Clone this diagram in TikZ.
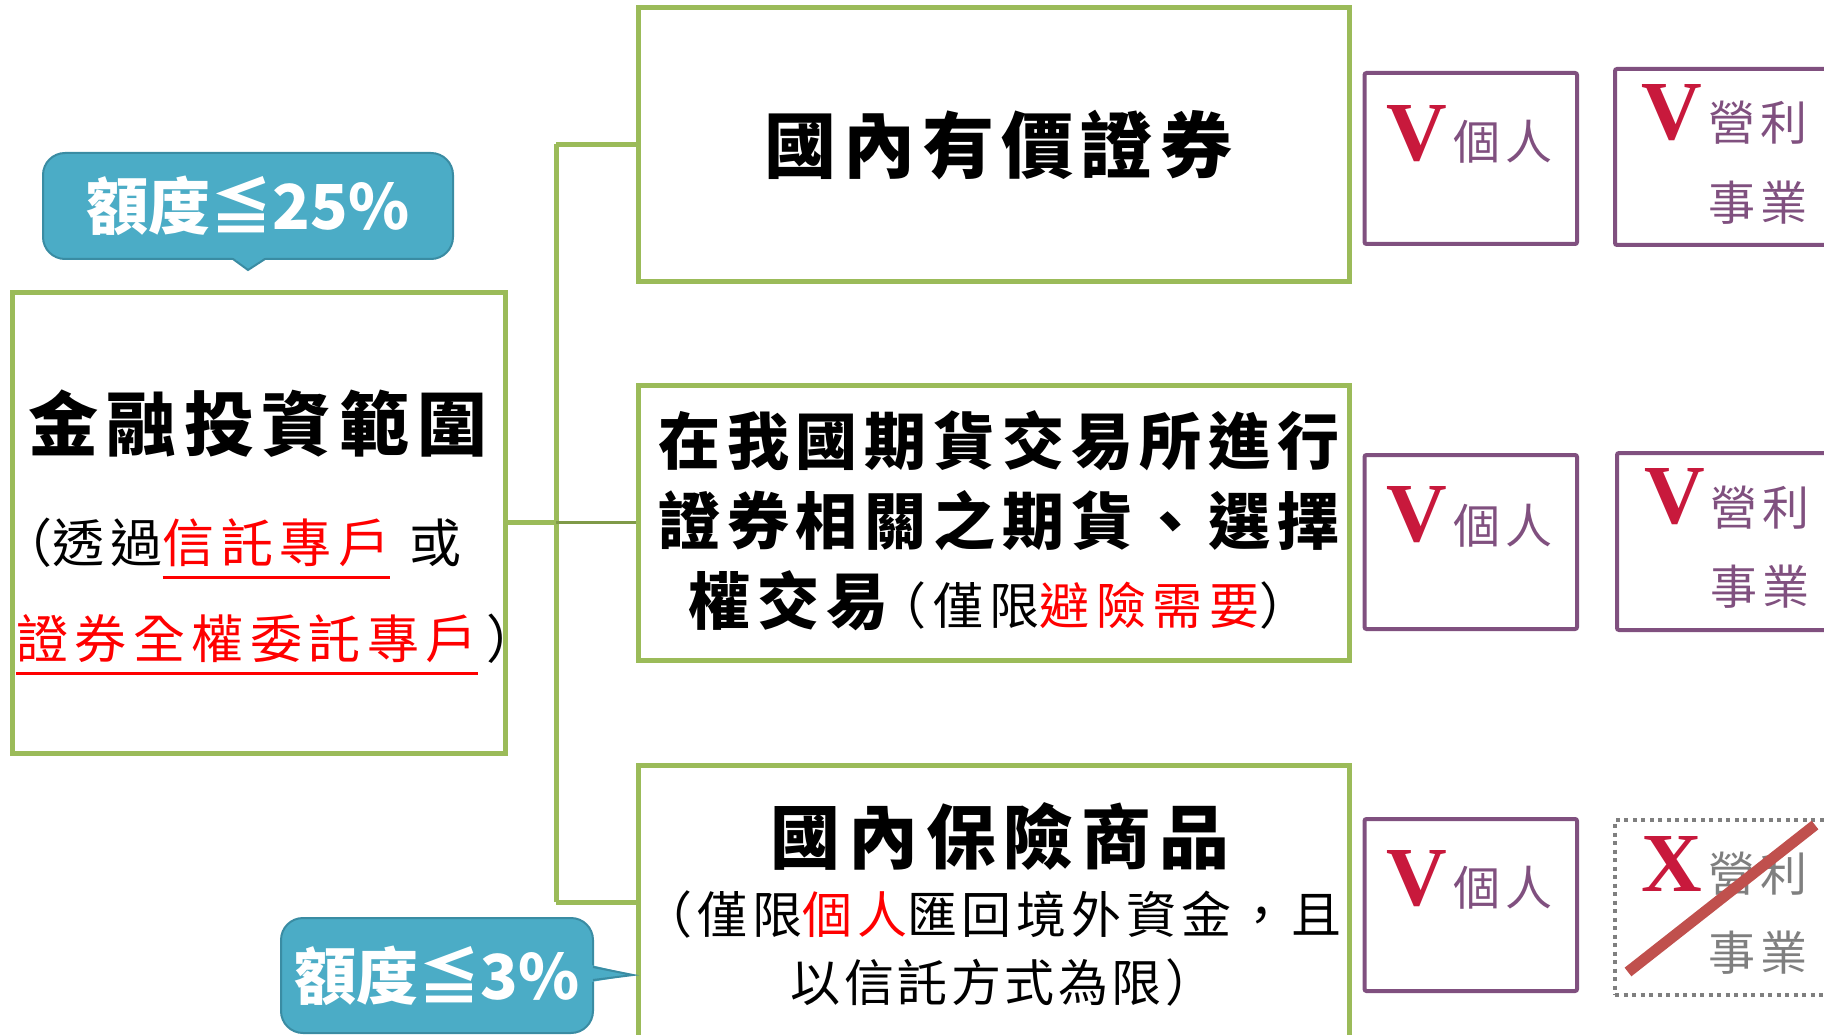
\documentclass[tikz,border=0pt]{standalone}
\usepackage{fontspec}
\newfontfamily\cjk{Noto Sans CJK TC}
\newfontfamily\tnr{Liberation Serif}
\definecolor{grn}{HTML}{9BBB59}
\definecolor{grnd}{HTML}{7F9A48}
\definecolor{tealf}{HTML}{4BACC6}
\definecolor{teald}{HTML}{3A8CA3}
\definecolor{purp}{HTML}{80507F}
\definecolor{vred}{HTML}{C8193C}
\definecolor{slashc}{HTML}{C0504D}
\definecolor{gry}{HTML}{7F7F7F}
\newcommand\fsz[2]{\fontsize{#1}{#2}\selectfont}
\newcommand\lsp[1]{\addfontfeature{LetterSpace=#1}}
\newcommand\redul[1]{\setbox0\hbox{#1}\rlap{\smash{\rule[-16.5pt]{\wd0}{3pt}}}\box0}
\begin{document}
\begin{tikzpicture}[x=1pt,y=-1pt,
  gbox/.style={draw=grn,line width=5pt,fill=white,inner sep=0pt},
  pbox/.style={draw=purp,line width=4pt,rounded corners=2pt,inner sep=0pt},
  conn/.style={draw=grn,line width=5pt},
  thinconn/.style={draw=grnd,line width=2.5pt},
  txt/.style={inner sep=0pt},
  vmark/.style={inner sep=0pt,text=vred,font=\tnr\bfseries\fsz{84}{84}},
  ptxt/.style={inner sep=0pt,text=purp,font=\cjk\fsz{47}{47}\lsp{12}},
  callout/.style={fill=tealf,draw=teald,line width=2pt,rounded corners=22pt,inner sep=0pt,text=white,font=\cjk\bfseries\fsz{62}{62}}]
\useasboundingbox (0,0) rectangle (1824,1035);

% callout 25%
\node[callout,minimum width=410pt,minimum height=106pt] (c25) at (248,206) {額度≦25\%};
\fill[tealf] (232,257) -- (248,270) -- (266,257) -- cycle;
\draw[teald,line width=2pt] (233,259) -- (248,270) -- (265,259);

% connectors
\coordinate (jt) at (556,144.5);
\coordinate (jb) at (556,902);
\coordinate (jm) at (556,522.5);
\draw[conn,line join=miter] (jt) -- (jb);

% boxes
\node[gbox,minimum width=493.5pt,minimum height=461pt] (L) at (258.75,522.5) {};
\node[gbox,minimum width=711pt,minimum height=274pt] (b1) at (993.5,144.5) {};
\node[gbox,minimum width=711pt,minimum height=275pt] (b2) at (993.5,522.5) {};
\node[gbox,minimum width=711pt,minimum height=274pt] (b3) at (993.5,902) {};

\draw[conn,line join=miter] (b1.west) -- (jt.north) -- (jt);
\draw[conn,line join=miter] (b3.west) -- (jb.south) -- (jb);
\draw[conn] (L.east) -- (jm);
\draw[thinconn] (jm) -- (b2.west);

% left box text
\node[txt,font=\cjk\bfseries\fsz{70}{70}\lsp{11}] (lt) at (258,424) {金融投資範圍};
\node[txt,anchor=base west,font=\cjk\fsz{52}{52}\lsp{12.5}] (l1) at (0,562) {{\lsp{-3}（}透過{\color{red}\redul{信託專戶}}\hspace{19pt}或};
\node[txt,anchor=base west,font=\cjk\fsz{52}{52}\lsp{12.5}] (l2) at (16,658) {{\color{red}\redul{證券全權委託專戶}}\kern9pt）};

% box texts
\node[txt,font=\cjk\bfseries\fsz{72}{72}\lsp{10}] (t1) at (998,145) {國內有價證券};
\node[txt,align=center,font=\cjk\bfseries\fsz{62}{80}\lsp{11}] (t2) at (999,521)
  {在我國期貨交易所進行\\證券相關之期貨、選擇\\權交易{\mdseries\fsz{50}{80}\lsp{13}\kern-12pt（僅限{\color{red}避險需要}）}};
\node[txt,font=\cjk\bfseries\fsz{70}{70}\lsp{11}] (t3a) at (1000,836) {國內保險商品};
\node[txt,font=\cjk\fsz{50}{50}\lsp{10}] (t3b) at (992,914) {（僅限{\color{red}個人}匯回境外資金，且};
\node[txt,font=\cjk\fsz{50}{50}\lsp{7}] (t3c) at (1003,982) {以信託方式為限）};

% callout 3%
\node[callout,minimum width=312pt,minimum height=115pt] (c3) at (437,975.5) {額度≦3\%};
\fill[tealf] (591,965) -- (633,975) -- (591,982) -- cycle;
\draw[teald,line width=2pt] (593,967) -- (633,975) -- (593,980);

% purple boxes
\node[pbox,minimum width=212.5pt,minimum height=171pt] (p1) at (1470.75,158.5) {};
\node[pbox,minimum width=212.5pt,minimum height=174pt] (p2) at (1470.75,542) {};
\node[pbox,minimum width=212.5pt,minimum height=172pt] (p3) at (1470.75,905) {};
\node[pbox,minimum width=225pt,minimum height=176pt] (q1) at (1727.5,157) {};
\node[pbox,minimum width=223pt,minimum height=177pt] (q2) at (1728.5,541.5) {};
\node[draw=gry,line width=4pt,dash pattern=on 4pt off 4.5pt,minimum width=225pt,minimum height=175pt,inner sep=0pt] (q3) at (1727.5,907.5) {};

% row 1
\node[vmark] (v1) at (1417,134) {V};
\node[ptxt] (g1) at (1503,142) {個人};
\node[vmark] (w1) at (1672,112.5) {V};
\node[ptxt] (y1) at (1758,123) {營利};
\node[ptxt] (s1) at (1758,203) {事業};
% row 2
\node[vmark] (v2) at (1417,515) {V};
\node[ptxt] (g2) at (1503,526) {個人};
\node[vmark] (w2) at (1674.5,497) {V};
\node[ptxt] (y2) at (1760,508) {營利};
\node[ptxt] (s2) at (1760,587) {事業};
% row 3
\node[vmark] (v3) at (1417,878.5) {V};
\node[ptxt] (g3) at (1503,888) {個人};
\node[vmark] (x3) at (1671.5,863.5) {X};
\node[ptxt,text=gry] (y3) at (1758,874) {營利};
\node[ptxt,text=gry] (s3) at (1758,953) {事業};
\draw[slashc,line width=11pt] (1628,972) -- (1815,825);
\end{tikzpicture}
\end{document}
